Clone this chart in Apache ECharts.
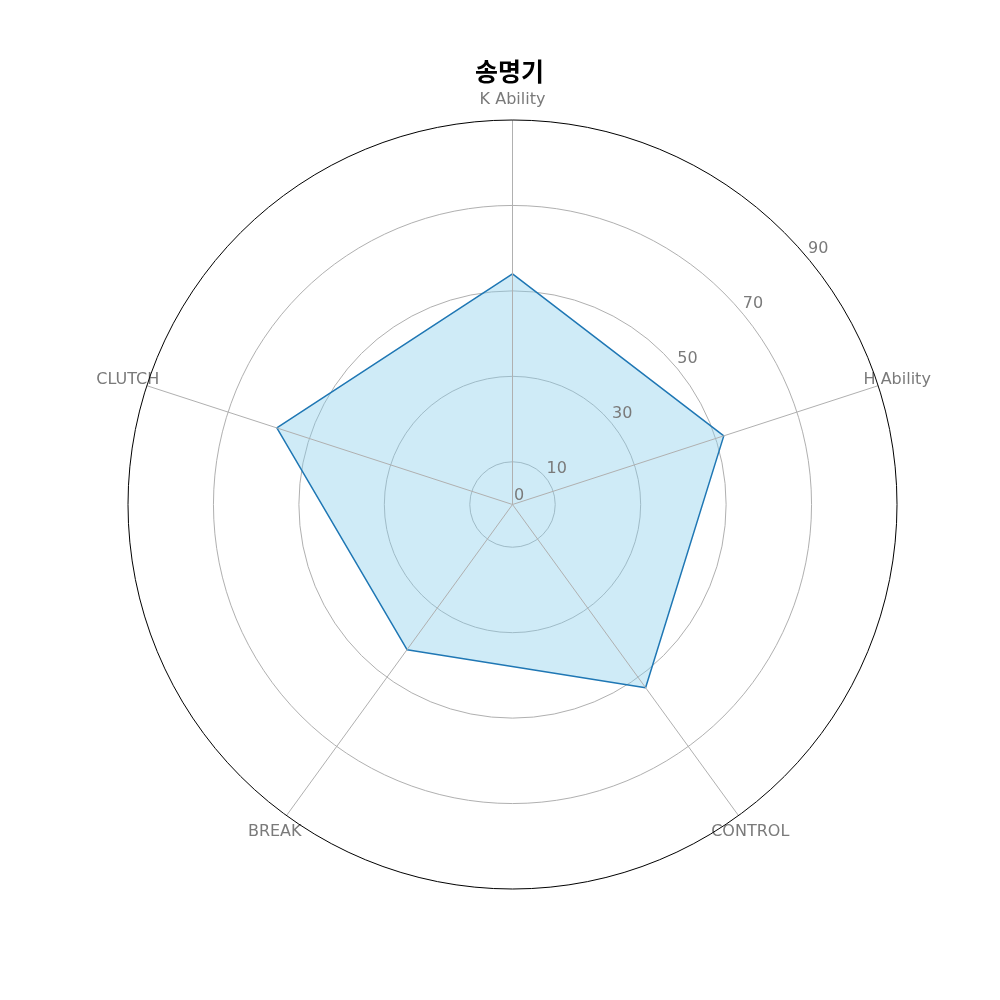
<!DOCTYPE html>
<html>
<head>
<meta charset="utf-8">
<script src="https://cdn.jsdelivr.net/npm/echarts@6/dist/echarts.min.js"></script>
<style>html,body{margin:0;padding:0;background:#fff}#chart{width:1000px;height:1000px}</style>
</head>
<body>
<div id="chart"></div>
<script>
const chartTitle = '송명기';
const categories = ['K Ability', 'H Ability', 'CONTROL', 'BREAK', 'CLUTCH'];
const values = [54, 52, 53, 42, 58];
const radiusTicks = [0, 10, 30, 50, 70, 90];
const radiusMax = 90;

const center = ['51.25%', '50.45%'];
const R = 384.5;
const labelR = 404.5;
const gray = '#7a7a7a';
const font = 'DejaVu Sans';
const nCat = categories.length;

const stepValues = [];
for (let v = 0; v <= radiusMax; v += 10) stepValues.push(v);
const splitColors = stepValues.map(v => (v > 0 && v < radiusMax && radiusTicks.includes(v)) ? '#b0b0b0' : 'rgba(0,0,0,0)');

// angle axis measured in category-index units (0..n), so the circle closes
const lineData = categories.map((c, i) => [values[i], i]);
lineData.push([values[0], nCat]);

const chart = echarts.init(document.getElementById('chart'), null, {renderer: 'canvas'});
chart.setOption({
  animation: false,
  backgroundColor: '#fff',
  title: {
    text: chartTitle,
    left: 475,
    top: 59,
    padding: 0,
    textAlign: 'left',
    textStyle: {fontFamily: 'Noto Sans CJK KR', fontWeight: 'bold', fontSize: 25, color: '#000'}
  },
  polar: [
    {center: center, radius: R},
    {center: center, radius: R},
    {center: center, radius: labelR}
  ],
  angleAxis: [
    {
      polarIndex: 0, type: 'value', min: 0, max: nCat, interval: 1,
      startAngle: 90, clockwise: true, z: 3,
      axisLine: {show: true, lineStyle: {color: '#000', width: 1}},
      axisTick: {show: false}, axisLabel: {show: false},
      splitLine: {show: true, lineStyle: {color: '#b0b0b0', width: 1}}
    },
    {polarIndex: 1, type: 'value', min: 0, max: 360, startAngle: 40.1, show: false},
    {polarIndex: 2, type: 'value', min: 0, max: nCat, interval: 1, startAngle: 90, clockwise: true, show: false}
  ],
  radiusAxis: [
    {
      polarIndex: 0, type: 'value', min: 0, max: radiusMax, interval: 10,
      axisLine: {show: false}, axisTick: {show: false}, axisLabel: {show: false},
      splitLine: {show: true, lineStyle: {color: splitColors, width: 1}}
    },
    {
      polarIndex: 1, type: 'value', min: 0, max: radiusMax, interval: 10, z: 5,
      axisLine: {show: false}, axisTick: {show: false}, splitLine: {show: false},
      axisLabel: {
        show: true, margin: 10.8, align: 'left', verticalAlign: 'middle',
        padding: [0, 0, 0, 8.4],
        color: gray, fontSize: 16, fontFamily: font,
        formatter: v => radiusTicks.includes(v) ? String(v) : ''
      }
    },
    {polarIndex: 2, type: 'value', min: 0, max: radiusMax, show: false}
  ],
  series: [
    {
      type: 'line', coordinateSystem: 'polar', polarIndex: 0,
      data: lineData, symbol: 'none', smooth: false, z: 2, clip: false,
      lineStyle: {color: '#1f77b4', width: 1.5},
      areaStyle: {color: 'rgba(135,206,235,0.4)', opacity: 1}
    },
    {
      type: 'scatter', coordinateSystem: 'polar', polarIndex: 2,
      data: categories.map((c, i) => [radiusMax, i]),
      symbolSize: 1, itemStyle: {color: 'rgba(0,0,0,0)'}, z: 1,
      label: {
        show: true, position: 'inside', color: gray, fontSize: 16, fontFamily: font,
        textBorderWidth: 0, opacity: 1,
        formatter: p => categories[p.dataIndex]
      }
    }
  ]
});
</script>
</body>
</html>
